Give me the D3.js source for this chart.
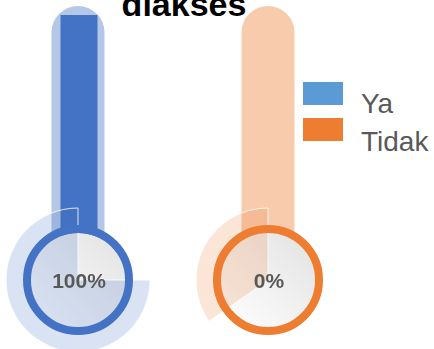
<!DOCTYPE html>
<html>
<head>
<meta charset="utf-8">
<script src="https://cdn.jsdelivr.net/npm/d3@7"></script>
<style>
  html, body { margin: 0; padding: 0; background: #fff; }
  svg { display: block; }
</style>
</head>
<body>
<svg id="chart" width="434" height="349"></svg>
<script>
// Chart data
const categories = ["Ya", "Tidak"];
const values = [100, 0];
const valueLabels = ["100%", "0%"];
const titleText = "diakses";

// Colours per category
const mainColors = ["#4472C4", "#ED7D31"];
const legendColors = ["#5B9BD5", "#ED7D31"];

const svg = d3.select("#chart");
const W = 434;

// Gradient for the bulb glass
const defs = svg.append("defs");
const grad = defs.append("linearGradient")
  .attr("id", "glass").attr("x1", "1").attr("y1", "0").attr("x2", "0").attr("y2", "1");
grad.append("stop").attr("offset", "0").attr("stop-color", "#E2E2E2");
grad.append("stop").attr("offset", "1").attr("stop-color", "#FFFFFF");

const blur = defs.append("filter").attr("id", "soft");
blur.append("feGaussianBlur").attr("stdDeviation", 0.4);

// Title (last line, partially above the frame)
svg.append("text")
  .attr("x", 184).attr("y", 16)
  .attr("text-anchor", "middle")
  .attr("font-family", "Liberation Sans, Arial, sans-serif")
  .attr("font-weight", "bold")
  .attr("font-size", 34)
  .attr("fill", "#000")
  .text(titleText);

// Layout scales
const x = d3.scalePoint().domain(categories).range([78, 268]);
const bulbY = 280;
const y = d3.scaleLinear().domain([0, 100]).range([bulbY, 15]);
const tubeTop = 6;
const tubeHalf = 26.5;
const barHalf = 18.5;
const ringR = 51, ringW = 8, glassR = 47, glareR = 72;
// Decorative highlight sweep of each bulb (radians, counter-clockwise from 12 o'clock)
const glareSweep = [-1.5 * Math.PI, -125 * Math.PI / 180];

const arc = d3.arc().innerRadius(0).outerRadius(glareR);

categories.forEach((c, i) => {
  const cx = x(c);
  const col = mainColors[i];
  const g = svg.append("g");

  // Glass tube with rounded top
  const tubePath = d3.path();
  tubePath.moveTo(cx - tubeHalf, bulbY);
  tubePath.lineTo(cx - tubeHalf, tubeTop + tubeHalf);
  tubePath.arc(cx, tubeTop + tubeHalf, tubeHalf, Math.PI, 0);
  tubePath.lineTo(cx + tubeHalf, bulbY);
  tubePath.closePath();
  g.append("path").attr("d", tubePath.toString())
    .attr("fill", col).attr("fill-opacity", 0.4);

  // Level bar
  g.append("rect")
    .attr("x", cx - barHalf + 1).attr("width", barHalf * 2)
    .attr("y", y(values[i]))
    .attr("height", bulbY - y(values[i]))
    .attr("fill", col);

  // Bulb glass
  g.append("circle").attr("cx", cx).attr("cy", bulbY).attr("r", glassR)
    .attr("fill", "url(#glass)");

  // Highlight sector
  g.append("path")
    .attr("transform", `translate(${cx},${bulbY})`)
    .attr("d", arc({ startAngle: glareSweep[i], endAngle: 0 }))
    .attr("fill", col).attr("fill-opacity", 0.2)
    .attr("stroke", "#fff").attr("stroke-opacity", 0.8).attr("stroke-width", 1);

  // Bulb ring
  g.append("circle").attr("cx", cx).attr("cy", bulbY).attr("r", ringR)
    .attr("fill", "none").attr("stroke", col).attr("stroke-width", ringW);

  // Value label
  g.append("text")
    .attr("x", cx + 1).attr("y", bulbY + 8)
    .attr("text-anchor", "middle")
    .attr("font-family", "Liberation Sans, Arial, sans-serif")
    .attr("font-weight", "bold")
    .attr("font-size", 21)
    .attr("fill", "#595959")
    .attr("filter", "url(#soft)")
    .text(valueLabels[i]);
});

// Legend
const legend = svg.append("g");
categories.forEach((c, i) => {
  const ly = 82 + i * 36;
  legend.append("rect").attr("x", 303).attr("y", ly).attr("width", 40).attr("height", 23)
    .attr("fill", legendColors[i]);
  legend.append("text").attr("x", 361).attr("y", ly + 31 + i * 2)
    .attr("font-family", "Liberation Sans, Arial, sans-serif")
    .attr("font-size", 28)
    .attr("fill", "#595959")
    .text(c);
});
</script>
</body>
</html>
